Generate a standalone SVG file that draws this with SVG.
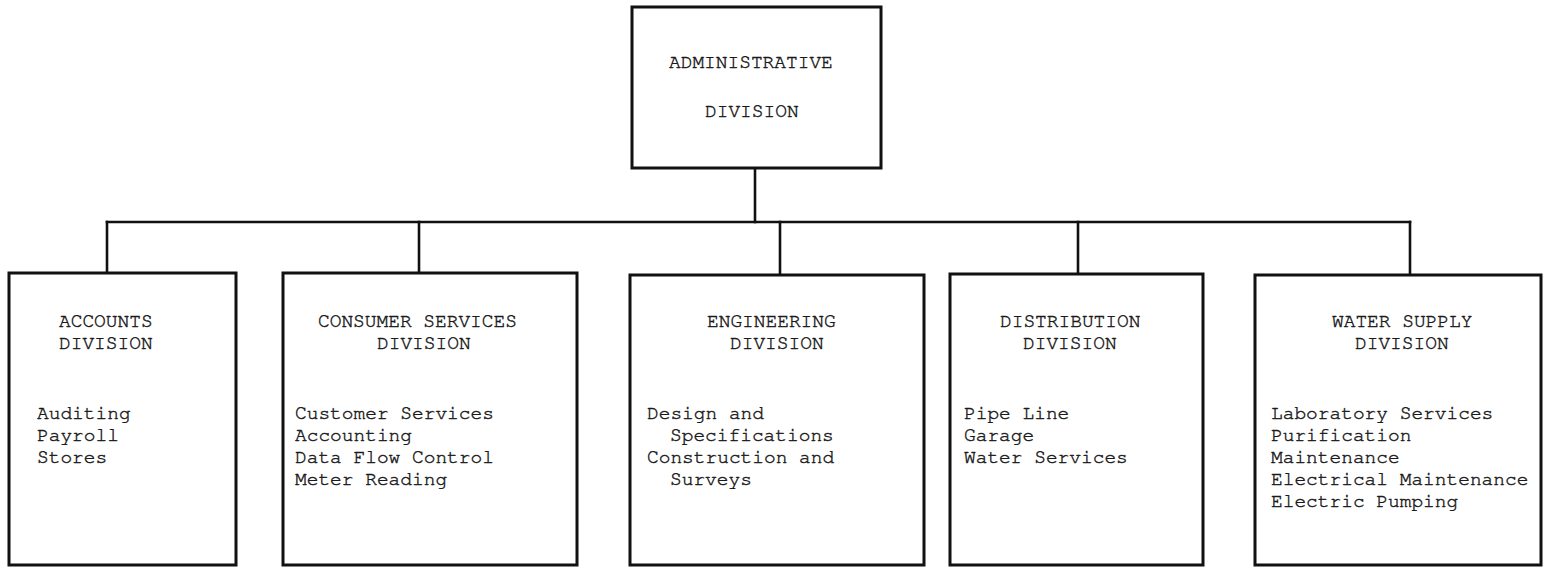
<svg xmlns="http://www.w3.org/2000/svg" width="1543" height="568" viewBox="0 0 1543 568">
  <style>
    .box { fill: #ffffff; stroke: #111111; stroke-width: 3; }
    .wire { fill: none; stroke: #111111; stroke-width: 2.6; stroke-linecap: square; }
    text { font-family: "Nimbus Mono PS", "FreeMono", "Courier", "Liberation Mono", "DejaVu Sans Mono", monospace; font-size: 19.5px; fill: #1a1a1a; stroke: #1a1a1a; stroke-width: 0.45px; }
  </style>
  <rect width="1543" height="568" fill="#ffffff"/>

  <!-- organisation tree wiring -->
  <g id="connectors">
    <path class="wire" d="M755 168 V222"/>
    <path class="wire" d="M107 222 H1410"/>
    <path class="wire" d="M107 222 V273"/>
    <path class="wire" d="M419 222 V273"/>
    <path class="wire" d="M780 222 V275"/>
    <path class="wire" d="M1078 222 V274"/>
    <path class="wire" d="M1410 222 V275"/>
  </g>

  <g id="administrative">
    <rect class="box" x="632" y="7" width="249" height="161"/>
    <text x="669" y="68">ADMINISTRATIVE</text>
    <text x="705" y="117">DIVISION</text>
  </g>

  <g id="accounts">
    <rect class="box" x="9" y="273" width="227" height="292"/>
    <text x="59" y="327">ACCOUNTS</text>
    <text x="59" y="349">DIVISION</text>
    <text x="37" y="419">Auditing</text>
    <text x="37" y="441">Payroll</text>
    <text x="37" y="463">Stores</text>
  </g>

  <g id="consumer-services">
    <rect class="box" x="283" y="273" width="294" height="292"/>
    <text x="318" y="327">CONSUMER SERVICES</text>
    <text x="377" y="349">DIVISION</text>
    <text x="295" y="419">Customer Services</text>
    <text x="295" y="441">Accounting</text>
    <text x="295" y="463">Data Flow Control</text>
    <text x="295" y="485">Meter Reading</text>
  </g>

  <g id="engineering">
    <rect class="box" x="630" y="275" width="294" height="290"/>
    <text x="707" y="327">ENGINEERING</text>
    <text x="730" y="349">DIVISION</text>
    <text x="647" y="419">Design and</text>
    <text x="670" y="441">Specifications</text>
    <text x="647" y="463">Construction and</text>
    <text x="670" y="485">Surveys</text>
  </g>

  <g id="distribution">
    <rect class="box" x="950" y="274" width="253" height="291"/>
    <text x="1000" y="327">DISTRIBUTION</text>
    <text x="1023" y="349">DIVISION</text>
    <text x="964" y="419">Pipe Line</text>
    <text x="964" y="441">Garage</text>
    <text x="964" y="463">Water Services</text>
  </g>

  <g id="water-supply">
    <rect class="box" x="1255" y="275" width="286" height="290"/>
    <text x="1332" y="327">WATER SUPPLY</text>
    <text x="1355" y="349">DIVISION</text>
    <text x="1271" y="419">Laboratory Services</text>
    <text x="1271" y="441">Purification</text>
    <text x="1271" y="463">Maintenance</text>
    <text x="1271" y="485">Electrical Maintenance</text>
    <text x="1271" y="507">Electric Pumping</text>
  </g>
</svg>
